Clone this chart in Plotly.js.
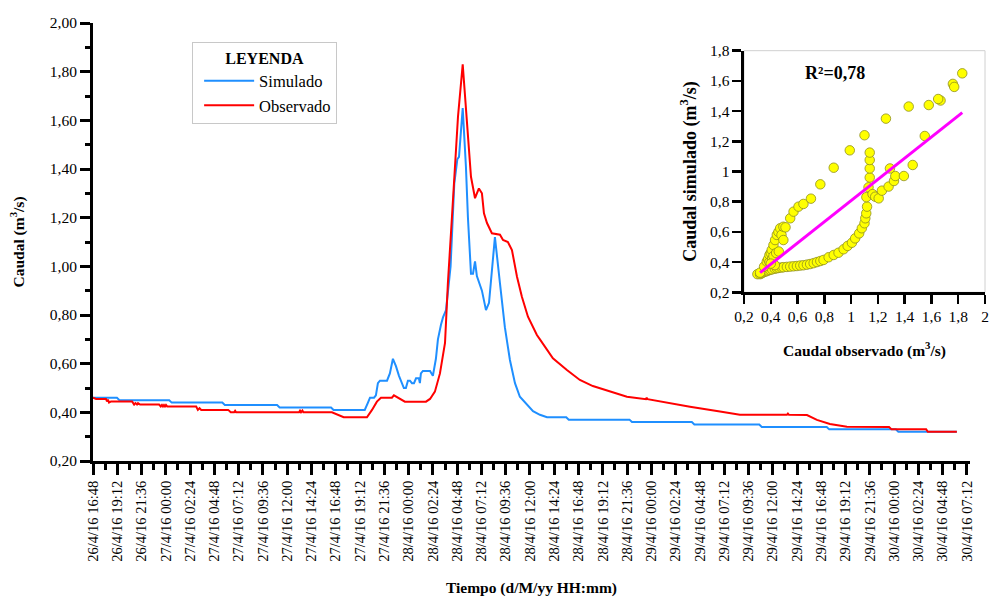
<!DOCTYPE html>
<html>
<head>
<meta charset="utf-8">
<script src="https://cdn.plot.ly/plotly-3.0.1.min.js"></script>
<style>html,body{margin:0;padding:0;background:#fff;}#chart{width:990px;height:598px;}</style>
</head>
<body>
<div id="chart"></div>
<script>
// ---- Simulated discharge (m3/s) ----
const timeSim = [
"2016-04-26 16:48","2016-04-26 19:10","2016-04-26 19:25","2016-04-27 00:20","2016-04-27 00:35",
"2016-04-27 05:35","2016-04-27 05:50","2016-04-27 11:00","2016-04-27 11:15","2016-04-27 16:20",
"2016-04-27 16:35","2016-04-27 19:40","2016-04-27 19:59","2016-04-27 20:11","2016-04-27 20:35",
"2016-04-27 20:46","2016-04-27 20:58","2016-04-27 21:10","2016-04-27 21:52","2016-04-27 22:09",
"2016-04-27 22:27","2016-04-27 22:45","2016-04-27 23:03","2016-04-27 23:21","2016-04-27 23:32",
"2016-04-27 23:44","2016-04-27 23:56","2016-04-28 00:08","2016-04-28 00:20","2016-04-28 00:32",
"2016-04-28 00:44","2016-04-28 01:01","2016-04-28 01:07","2016-04-28 01:13","2016-04-28 01:25",
"2016-04-28 02:07","2016-04-28 02:24","2016-04-28 02:42","2016-04-28 02:54","2016-04-28 03:12",
"2016-04-28 03:24","2016-04-28 03:42","2016-04-28 04:09","2016-04-28 04:31","2016-04-28 04:49",
"2016-04-28 04:59","2016-04-28 05:21","2016-04-28 05:40","2016-04-28 05:52","2016-04-28 06:10",
"2016-04-28 06:22","2016-04-28 06:34","2016-04-28 06:45","2016-04-28 07:15","2016-04-28 07:39",
"2016-04-28 07:57","2016-04-28 08:32","2016-04-28 09:02","2016-04-28 09:31","2016-04-28 10:01",
"2016-04-28 10:31","2016-04-28 11:00","2016-04-28 11:42","2016-04-28 12:18","2016-04-28 12:59",
"2016-04-28 13:41","2016-04-28 15:35","2016-04-28 15:50","2016-04-28 21:50","2016-04-28 22:05",
"2016-04-29 04:00","2016-04-29 04:15","2016-04-29 10:40","2016-04-29 10:55","2016-04-29 17:20",
"2016-04-29 17:35","2016-04-30 00:10","2016-04-30 00:25","2016-04-30 06:12"
];
const qSim = [
0.46,0.46,0.45,0.45,0.44,
0.44,0.43,0.43,0.42,0.42,
0.41,0.41,0.44,0.46,0.46,
0.47,0.52,0.53,0.53,0.56,
0.62,0.59,0.55,0.52,0.50,
0.50,0.53,0.53,0.52,0.52,
0.54,0.54,0.52,0.56,0.57,
0.57,0.55,0.62,0.70,0.76,
0.79,0.82,1.00,1.34,1.44,
1.45,1.65,1.41,1.20,0.97,
0.97,1.02,0.96,0.90,0.82,
0.85,1.12,0.93,0.75,0.615,
0.52,0.464,0.43,0.405,0.39,
0.38,0.38,0.37,0.37,0.36,
0.36,0.35,0.35,0.34,0.34,
0.33,0.33,0.32,0.32
];

// ---- Observed discharge (m3/s) ----
const timeObs = [
"2016-04-26 16:48","2016-04-26 17:06","2016-04-26 18:05","2016-04-26 18:11","2016-04-26 18:17",
"2016-04-26 18:23","2016-04-26 18:35","2016-04-26 20:40","2016-04-26 20:52","2016-04-26 21:00",
"2016-04-26 21:09","2016-04-26 21:15","2016-04-26 21:27","2016-04-26 23:20","2016-04-26 23:30",
"2016-04-26 23:37","2016-04-26 23:43","2016-04-26 23:49","2016-04-26 23:55","2016-04-27 00:01",
"2016-04-27 00:08","2016-04-27 03:00","2016-04-27 03:10","2016-04-27 03:20","2016-04-27 03:30",
"2016-04-27 06:10","2016-04-27 06:25","2016-04-27 06:45","2016-04-27 06:51","2016-04-27 06:57",
"2016-04-27 13:10","2016-04-27 13:16","2016-04-27 13:22","2016-04-27 13:30","2016-04-27 13:36",
"2016-04-27 16:25","2016-04-27 17:35","2016-04-27 19:53","2016-04-27 20:23","2016-04-27 20:52",
"2016-04-27 21:16","2016-04-27 22:21","2016-04-27 22:33","2016-04-27 22:57","2016-04-27 23:38",
"2016-04-28 01:43","2016-04-28 02:07","2016-04-28 02:36","2016-04-28 03:06","2016-04-28 03:36",
"2016-04-28 03:53","2016-04-28 04:17","2016-04-28 04:35","2016-04-28 04:53","2016-04-28 05:21",
"2016-04-28 05:46","2016-04-28 06:10","2016-04-28 06:34","2016-04-28 06:45","2016-04-28 06:57",
"2016-04-28 07:15","2016-04-28 07:27","2016-04-28 07:45","2016-04-28 08:14","2016-04-28 09:02",
"2016-04-28 09:20","2016-04-28 09:49","2016-04-28 10:13","2016-04-28 10:43","2016-04-28 11:12",
"2016-04-28 11:48","2016-04-28 12:41","2016-04-28 12:59","2016-04-28 14:16","2016-04-28 15:39",
"2016-04-28 16:56","2016-04-28 18:13","2016-04-28 19:54","2016-04-28 21:35","2016-04-28 23:28",
"2016-04-28 23:32","2016-04-28 23:38","2016-04-29 01:08","2016-04-29 03:49","2016-04-29 06:47",
"2016-04-29 08:45","2016-04-29 13:24","2016-04-29 13:30","2016-04-29 13:36","2016-04-29 15:23",
"2016-04-29 16:22","2016-04-29 17:39","2016-04-29 19:20","2016-04-29 23:30","2016-04-29 23:45",
"2016-04-30 03:10","2016-04-30 03:20","2016-04-30 06:12"
];
const qObs = [
0.46,0.455,0.455,0.445,0.452,
0.44,0.445,0.445,0.432,0.438,
0.432,0.438,0.432,0.432,0.424,
0.430,0.424,0.430,0.424,0.430,
0.424,0.424,0.410,0.417,0.410,
0.410,0.400,0.400,0.406,0.400,
0.400,0.407,0.400,0.407,0.400,
0.400,0.380,0.380,0.410,0.444,
0.46,0.46,0.47,0.46,0.444,
0.444,0.455,0.485,0.56,0.685,
0.93,1.20,1.41,1.615,1.83,
1.574,1.368,1.28,1.30,1.32,
1.30,1.218,1.178,1.136,1.13,
1.108,1.10,1.067,0.957,0.875,
0.793,0.718,0.70,0.622,0.574,
0.533,0.508,0.485,0.464,0.454,
0.46,0.454,0.444,0.423,0.403,
0.39,0.39,0.395,0.39,0.389,
0.369,0.352,0.341,0.34,0.33,
0.33,0.32,0.32
];

// ---- Inset scatter: observed vs simulated ----
const scatObs = [
0.30,0.32,0.33,0.34,0.357,0.37,0.38,0.395,0.41,0.43,0.445,0.46,0.48,0.494,0.52,0.545,0.57,0.595,0.62,0.644,
0.67,0.694,0.72,0.745,0.77,0.794,0.832,0.87,0.906,0.944,0.974,1.006,1.03,1.06,1.08,1.10,1.106,1.113,1.119,1.114,
1.13,1.139,1.139,1.139,1.139,1.16,1.18,1.206,1.23,1.28,1.32,1.33,1.29,1.394,1.46,1.55,
0.32,0.35,0.37,0.38,0.39,0.40,0.407,0.42,0.432,0.445,0.457,0.47,0.48,0.494,0.494,0.51,0.545,0.57,0.607,0.644,
0.70,0.77,0.87,0.99,1.10,1.26,1.43,1.58,1.668,1.65,1.76,1.77,1.83,
0.39,0.41,0.42,0.44,0.46,0.43,0.40
];
const scatSim = [
0.32,0.32,0.325,0.33,0.336,0.34,0.345,0.348,0.352,0.356,0.359,0.362,0.364,0.366,0.368,0.37,0.372,0.374,0.377,0.379,
0.383,0.387,0.393,0.40,0.407,0.414,0.432,0.447,0.462,0.485,0.507,0.528,0.557,0.59,0.624,0.657,0.69,0.723,0.767,0.83,
0.895,0.96,1.02,1.076,1.125,0.85,0.833,0.822,0.873,0.90,0.937,0.97,1.02,0.97,1.043,1.235,
0.33,0.37,0.403,0.42,0.447,0.46,0.48,0.513,0.546,0.58,0.60,0.624,0.58,0.546,0.634,0.63,0.69,0.734,0.767,0.785,
0.82,0.915,1.025,1.14,1.24,1.35,1.43,1.44,1.47,1.48,1.58,1.56,1.65,
0.40,0.42,0.44,0.46,0.47,0.38,0.39
];
const fitObs = [0.32, 1.83];
const fitSim = [0.33, 1.39];

const FONT = "Liberation Serif";

const traces = [
  {x: timeSim, y: qSim, type: "scatter", mode: "lines", name: "Simulado",
   line: {color: "#1f8fff", width: 2}, xaxis: "x", yaxis: "y"},
  {x: timeObs, y: qObs, type: "scatter", mode: "lines", name: "Observado",
   line: {color: "#ff0000", width: 2}, xaxis: "x", yaxis: "y"},
  {x: scatObs, y: scatSim, type: "scatter", mode: "markers", showlegend: false,
   marker: {color: "#ffff00", size: 9.5, line: {color: "#8f8f20", width: 0.8}},
   xaxis: "x2", yaxis: "y2"},
  {x: fitObs, y: fitSim, type: "scatter", mode: "lines", showlegend: false,
   line: {color: "#ff00ff", width: 3}, xaxis: "x2", yaxis: "y2"}
];

const layout = {
  width: 990, height: 598,
  margin: {l: 93, r: 4, t: 23, b: 137},
  paper_bgcolor: "#fff", plot_bgcolor: "rgba(0,0,0,0)",
  separators: ",.",
  font: {family: FONT, size: 15, color: "#000"},
  showlegend: true,
  legend: {
    x: 0.111, y: 0.957, xanchor: "left", yanchor: "top",
    bgcolor: "#fff", bordercolor: "#c8c8c8", borderwidth: 1,
    font: {family: FONT, size: 16.5, color: "#000"},
    title: {text: "<b>LEYENDA</b>", side: "top center", font: {family: FONT, size: 16}},
    itemwidth: 50, indentation: 6, tracegroupgap: 0
  },
  xaxis: {
    type: "date", domain: [0, 0.98208], anchor: "y",
    range: ["2016-04-26 16:48", "2016-04-30 07:30"],
    tickmode: "linear", tick0: "2016-04-26 16:48", dtick: 8640000,
    tickformat: "%-d/%-m/%y %H:%M", tickangle: -90,
    tickfont: {family: FONT, size: 14.5},
    ticks: "outside", ticklen: 11, tickwidth: 3, tickcolor: "#000",
    minor: {dtick: 4320000, ticks: "outside", ticklen: 6, tickwidth: 3, tickcolor: "#000", showgrid: false},
    showline: true, linewidth: 3, linecolor: "#000",
    showgrid: false, zeroline: false, automargin: false,
    title: {text: "<b>Tiempo (d/M/yy HH:mm)</b>", font: {family: FONT, size: 15.5}, standoff: 22}
  },
  yaxis: {
    domain: [0, 1], anchor: "x",
    range: [0.2, 2.0], tickmode: "linear", tick0: 0.2, dtick: 0.2, tickformat: ".2f",
    tickfont: {family: FONT, size: 15.5},
    ticks: "outside", ticklen: 10, tickwidth: 3, tickcolor: "#000",
    minor: {dtick: 0.1, ticks: "outside", ticklen: 5, tickwidth: 3, tickcolor: "#000", showgrid: false},
    showline: true, linewidth: 3, linecolor: "#000",
    showgrid: false, zeroline: false, automargin: false,
    title: {text: "<b>Caudal (m<sup>3</sup>/s)</b>", font: {family: FONT, size: 15.5}, standoff: 22}
  },
  xaxis2: {
    domain: [0.7290, 0.9989], anchor: "y2",
    range: [0.2, 2.0], tickmode: "linear", tick0: 0.2, dtick: 0.2,
    tickfont: {family: FONT, size: 15.5},
    ticks: "outside", ticklen: 9, tickwidth: 2.5, tickcolor: "#000",
    showline: true, linewidth: 2.5, linecolor: "#000",
    showgrid: false, zeroline: false, automargin: false,
    title: {text: "<b>Caudal observado (m<sup>3</sup>/s)</b>", font: {family: FONT, size: 15.5}, standoff: 21}
  },
  yaxis2: {
    domain: [0.3852, 0.9368], anchor: "x2",
    range: [0.2, 1.8], tickmode: "linear", tick0: 0.2, dtick: 0.2,
    tickfont: {family: FONT, size: 15.5},
    ticks: "outside", ticklen: 9, tickwidth: 2.5, tickcolor: "#000",
    showline: true, linewidth: 2.5, linecolor: "#000",
    showgrid: false, zeroline: false, automargin: false,
    title: {text: "<b>Caudal simulado (m<sup>3</sup>/s)</b>", font: {family: FONT, size: 18}, standoff: 9}
  },
  shapes: [
    {type: "rect", xref: "x2 domain", yref: "y2 domain", x0: 0, x1: 1, y0: 0, y1: 1,
     line: {color: "#d0d0d0", width: 1}, layer: "below"}
  ],
  annotations: [
    {xref: "x2", yref: "y2", x: 0.88, y: 1.65, text: "<b>R²=0,78</b>", showarrow: false,
     font: {family: FONT, size: 18, color: "#000"}}
  ]
};

Plotly.newPlot("chart", traces, layout, {displayModeBar: false, staticPlot: true});
</script>
</body>
</html>
